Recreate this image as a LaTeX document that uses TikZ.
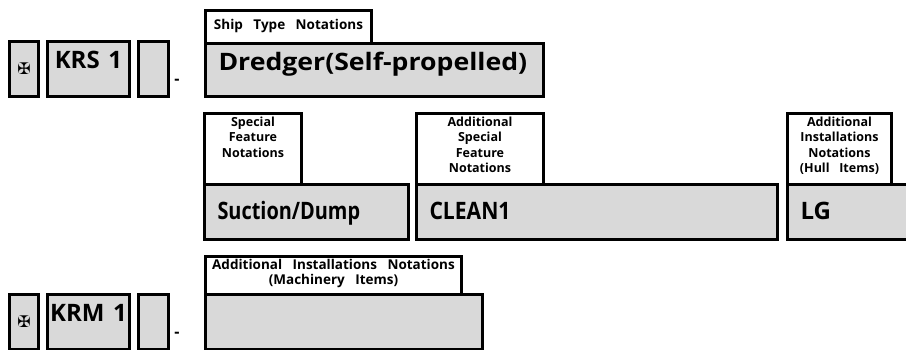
\documentclass[tikz,border=0pt]{standalone}
\usepackage{fontspec}
\setmainfont{Open Sans}[WordSpace=1.4]
\newfontfamily\headfont{Open Sans}[WordSpace=3]
\newfontfamily\crossfont{DejaVu Sans}
\usepackage{tikz}
\usetikzlibrary{positioning}
\definecolor{boxgrey}{RGB}{217,217,217}

\begin{document}
\begin{tikzpicture}[x=1pt,y=-1pt,
    every node/.style={inner sep=0pt,outer sep=0pt},
    greybox/.style={draw,line width=2.8pt,fill=boxgrey,anchor=north west},
    headbox/.style={draw,line width=2.8pt,fill=white,anchor=north west},
    bigtext/.style={font=\fontsize{24}{28}\selectfont\bfseries},
    headtext/.style={font=\headfont\fontsize{12.5}{15.5}\selectfont\bfseries,align=center},
    wideheadtext/.style={font=\headfont\fontsize{13.5}{15.5}\selectfont\bfseries,align=center},
    crosstext/.style={font=\crossfont\fontsize{16}{16}\selectfont\bfseries},
    dashtext/.style={font=\fontsize{16}{16}\selectfont\bfseries}]
    \clip (0,0) rectangle (906,350);
    % KRS row
    \node[greybox,minimum width=29pt,minimum height=55pt] (markS) at (9.5,41.5) {};
    \node[greybox,minimum width=82pt,minimum height=55pt] (krs) at (47.5,41.5) {};
    \node[greybox,minimum width=30pt,minimum height=55pt] (blankS) at (138.5,41.5) {};
    \node[crosstext] (crossS) at (markS.center) {✠};
    \node[bigtext,below=27pt of krs.north,anchor=base] (tKRS) {KRS 1};
    \node[dashtext] (dashS) at (177,82) {-};
    \node[headbox,minimum width=166pt,minimum height=33pt] (hdrShip) at (205.5,10.5) {};
    \node[wideheadtext,below=19.5pt of hdrShip.north,anchor=base] (tShip) {Ship Type Notations};
    \node[greybox,minimum width=338pt,minimum height=53pt] (dredger) at (205.5,43.5) {};
    \node[bigtext,below right=27pt and 13pt of dredger.north west,anchor=base west] (tDredger)
      {\scalebox{1.11}[1]{Dredger(Self-propelled)}};
    % notation row
    \node[headbox,minimum width=97pt,minimum height=71pt] (hdrSpecial) at (204.5,113.5) {};
    \node[headtext,below=3.5pt of hdrSpecial.north] (tSpecial) {Special\\Feature\\Notations};
    \node[greybox,minimum width=204pt,minimum height=55pt] (suction) at (204.5,184.5) {};
    \node[bigtext,below right=35pt and 13pt of suction.north west,anchor=base west] (tSuction)
      {\scalebox{0.83}[1]{Suction/Dump}};
    \node[headbox,minimum width=127pt,minimum height=71pt] (hdrAddSpecial) at (416.5,113.5) {};
    \node[headtext,below=3.5pt of hdrAddSpecial.north] (tAddSpecial) {Additional\\Special\\Feature\\Notations};
    \node[greybox,minimum width=361pt,minimum height=55pt] (clean) at (416.5,184.5) {};
    \node[bigtext,below right=35pt and 13pt of clean.north west,anchor=base west] (tClean)
      {\scalebox{0.88}[1]{CLEAN1}};
    \node[headbox,minimum width=104pt,minimum height=71pt] (hdrHull) at (787.5,113.5) {};
    \node[headtext,below=3.5pt of hdrHull.north] (tHull) {Additional\\Installations\\Notations\\(Hull Items)};
    \node[greybox,minimum width=130pt,minimum height=55pt] (lg) at (787.5,184.5) {};
    \node[bigtext,below right=35pt and 13pt of lg.north west,anchor=base west] (tLG) {LG};
    % KRM row
    \node[greybox,minimum width=29pt,minimum height=55pt] (markM) at (9.5,294.5) {};
    \node[greybox,minimum width=82pt,minimum height=55pt] (krm) at (47.5,294.5) {};
    \node[greybox,minimum width=30pt,minimum height=55pt] (blankM) at (138.5,294.5) {};
    \node[crosstext] (crossM) at (markM.center) {✠};
    \node[bigtext,below=27pt of krm.north,anchor=base] (tKRM) {KRM 1};
    \node[dashtext] (dashM) at (177,335) {-};
    \node[headbox,minimum width=256pt,minimum height=38pt] (hdrMach) at (205.5,256.5) {};
    \node[wideheadtext,below=2.5pt of hdrMach.north] (tMach) {Additional Installations Notations\\(Machinery Items)};
    \node[greybox,minimum width=277pt,minimum height=55pt] (machinery) at (205.5,294.5) {};
\end{tikzpicture}
\end{document}
